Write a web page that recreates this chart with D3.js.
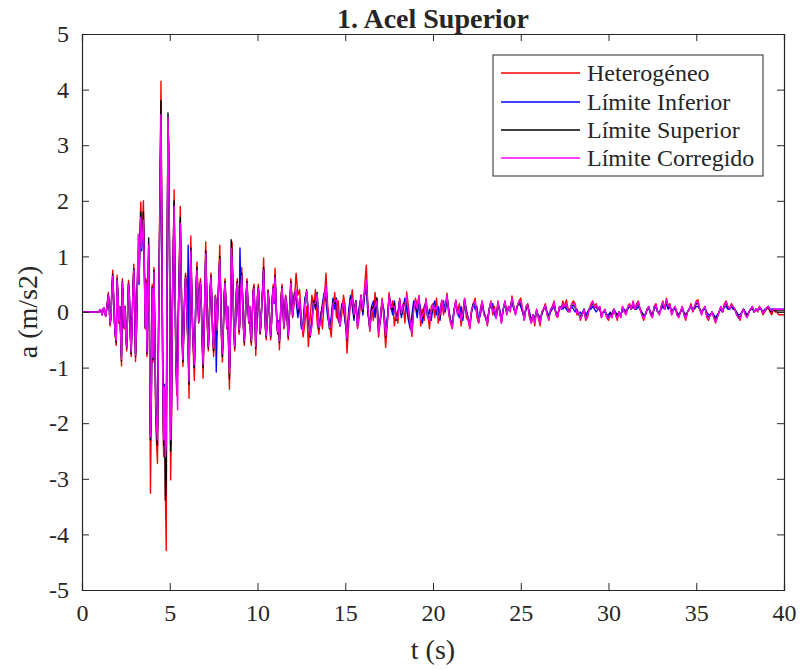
<!DOCTYPE html>
<html>
<head>
<meta charset="utf-8">
<script src="https://cdn.jsdelivr.net/npm/d3@7"></script>
<style>
body{margin:0;background:#fff;}
svg{display:block;}
text{font-family:"Liberation Serif","Times New Roman",serif;fill:#262626;}
</style>
</head>
<body>
<svg id="chart" width="802" height="670"></svg>
<script>
// ---- data ----
const seriesNames = ["Heterogéneo","Límite Inferior","Límite Superior","Límite Corregido"];
const seriesColors = ["#ff0000","#0000ff","#000000","#ff00ff"];
const xTicks = [0,5,10,15,20,25,30,35,40];
const yTicks = [-5,-4,-3,-2,-1,0,1,2,3,4,5];
const earlySpan = [0,12];   // seconds, samples evenly spread
const lateSpan = [12,40];

// Heterogéneo
const redEarly = [0,0,0,0,0,0,0,0,0,0,0,0,0,0,0,0,0,0,0,0,
0.02,0.04,0.0,-0.05,0.05,0.08,-0.02,-0.08,0.05,0.2,
0.35,0.1,-0.25,-0.1,0.4,0.75,0.3,-0.2,-0.45,-0.6,
0.66,0.3,-0.2,0.1,-0.4,-0.97,0.6,0.2,-0.3,0.1,
-0.5,-0.7,0.0,0.57,0.3,-0.4,-0.8,-0.3,0.4,0.86,
0.3,-0.89,-0.4,0.5,1.1,0.6,1.45,1.98,1.3,1.6,
2.0,1.0,-0.3,0.6,-0.8,0.3,1.2,-0.6,-3.26,-1.8,
0.5,-0.9,0.8,-0.4,-1.9,-2.4,-2.72,-0.8,1.0,2.5,
4.15,1.5,-1.2,-2.6,-1.5,-3.2,-4.29,1.0,3.3,3.0,
0.5,-3.02,-2.0,0.2,1.2,2.2,0.6,-1.0,-1.5,-1.0,
0.2,1.0,1.9,0.8,-0.5,-0.98,-0.4,0.3,0.7,0.4,
-0.3,-0.8,-1.55,0.2,1.37,0.5,-0.3,-0.8,-1.23,-0.4,
0.5,0.9,0.4,-0.2,0.3,0.6,0.1,-0.6,-1.19,-0.5,
0.4,1.26,0.5,-0.3,-0.7,-0.2,0.4,0.7,0.2,-0.5,
-0.8,-0.3,0.3,0.1,-0.4,0.2,0.7,1.2,0.4,-0.5,
-0.9,-0.4,0.3,0.6,0.2,-0.3,0.1,-0.6,-1.39,-0.6,
0.4,1.26,0.5,-0.3,-0.7,-0.2,0.4,0.6,0.1,-0.4,
-0.2,0.5,0.8,0.3,-0.3,-0.6,-0.2,0.3,0.6,0.2,
-0.2,0.1,-0.4,-0.6,-0.1,0.4,0.5,0.0,-0.78,-0.3,
0.3,0.5,0.1,-0.4,-0.2,0.2,0.5,0.97,0.3,-0.3,
-0.5,-0.1,0.4,0.2,-0.2,-0.5,-0.2,0.3,0.5,0.2,
0.79,0.3,-0.2,-0.4,-0.2,-0.68,-0.2,0.3,0.5,0.1,
-0.3,-0.1,0.3,0.2,-0.2,-0.5,-0.2,0.2,0.6,0.3,
-0.1];
const redLate = [0.2,0.7,0.3,0.4,-0.1,-0.45,-0.2,0.1,-0.62,-0.1,
0.3,0.1,0.4,-0.2,-0.4,0.0,-0.3,0.2,0.70,0.1,
-0.2,-0.45,0.05,0.35,-0.1,0.2,-0.25,-0.05,0.3,0.1,
-0.74,-0.2,0.15,0.4,0.0,0.2,-0.3,-0.1,0.3,-0.05,
0.45,0.84,0.0,-0.35,0.1,-0.15,0.35,0.05,-0.45,-0.1,
0.25,-0.1,-0.64,-0.2,0.35,0.05,0.2,-0.25,0.0,-0.2,
0.25,-0.05,0.15,-0.2,0.36,0.1,-0.2,-0.44,0.05,0.25,
0.1,0.3,-0.25,0.05,-0.15,0.25,-0.05,-0.3,0.1,0.15,
-0.1,0.25,-0.2,0.05,0.2,-0.05,0.1,0.34,-0.05,-0.2,
-0.3,0.05,0.2,-0.05,0.15,-0.25,0.0,0.25,-0.1,-0.15,
-0.3,0.05,0.15,0.25,-0.1,-0.2,0.05,0.2,-0.05,-0.1,
-0.25,0.05,0.2,-0.05,0.1,-0.1,0.2,0.0,-0.2,0.05,
0.2,-0.05,0.1,0.0,0.29,0.1,-0.05,0.1,0.2,0.25,
0.05,-0.15,0.1,0.15,-0.1,-0.2,-0.05,-0.25,0.05,-0.1,
-0.25,0.0,0.05,0.15,-0.05,-0.15,0.05,0.1,0.2,-0.05,
-0.1,0.1,0.05,0.2,0.1,0.22,0.05,0.0,0.15,0.2,
0.15,-0.05,0.0,-0.15,-0.05,0.05,-0.15,-0.1,0.05,0.15,
0.2,0.1,0.15,0.05,0.1,-0.1,0.0,0.05,-0.1,-0.15,
-0.05,-0.1,0.05,-0.05,-0.15,0.0,-0.1,0.1,0.0,-0.05,
0.1,0.15,0.05,0.2,0.05,0.15,0.2,0.05,-0.05,-0.15,
-0.05,0.05,0.1,-0.05,-0.1,0.1,0.15,0.0,-0.05,0.1,
0.2,0.05,0.25,0.1,0.15,-0.05,0.05,0.1,-0.05,-0.1,
0.0,0.1,-0.05,-0.15,0.0,0.05,0.15,0.0,0.1,0.2,
0.22,0.05,-0.05,0.05,0.1,-0.1,-0.15,-0.05,0.0,-0.1,
-0.2,-0.1,0.0,0.1,0.0,0.15,0.2,0.1,0.05,0.15,
0.1,0.05,-0.05,-0.1,-0.15,0.0,0.05,-0.05,-0.1,0.0,
0.05,0.1,0.0,0.05,0.0,0.1,0.05,-0.05,0.0,0.05,
0.1,0.0,-0.05,0.05,0.0,0.0,-0.05,-0.05,-0.05,-0.05];

// Límite Inferior
const blueEarly = [0,0,0,0,0,0,0,0,0,0,0,0,0,0,0,0,0,0,0,0,
0.02,0.03,0.0,-0.04,0.04,0.06,-0.02,-0.06,0.04,0.15,
0.3,0.08,-0.2,-0.08,0.35,0.6,0.25,-0.15,-0.4,-0.5,
0.55,0.25,-0.15,0.1,-0.35,-0.8,0.5,0.15,-0.25,0.1,
-0.4,-0.6,0.0,0.5,0.25,-0.35,-0.7,-0.25,0.35,0.7,
0.25,-0.75,-0.35,0.4,0.9,0.5,1.2,1.6,1.1,1.3,
1.6,0.8,-0.25,0.5,-0.7,0.25,1.0,-0.5,-2.2,-1.5,
0.4,-0.8,0.7,-0.35,-1.6,-2.0,-2.1,-0.7,0.8,2.0,
3.3,1.2,-1.0,-2.2,-1.3,-2.5,-2.2,0.8,3.2,2.5,
0.4,-2.36,-1.6,0.1,1.0,1.8,0.5,-0.8,-1.2,-0.8,
0.1,0.8,1.5,0.6,-0.4,-0.8,-0.3,0.25,0.6,0.3,
-0.2,1.2,-1.2,0.1,1.0,0.4,-0.25,-0.6,-0.9,-0.3,
0.4,0.7,0.3,-0.15,0.25,0.5,0.1,-0.5,-0.9,-0.4,
0.3,1.0,0.4,-0.25,-0.6,-0.15,0.35,0.6,0.15,-0.4,
-0.6,-0.3,0.25,-1.08,-0.3,0.15,0.6,0.9,0.3,-0.4,
-0.7,-0.3,0.25,0.5,0.15,-0.25,0.1,-0.5,-1.0,-0.5,
0.3,1.0,0.4,-0.25,-0.6,-0.15,0.35,0.5,0.1,-0.3,
1.15,0.4,0.6,0.25,-0.25,-0.5,-0.15,0.25,0.5,0.15,
-0.15,0.1,-0.35,-0.5,-0.1,0.35,0.4,0.0,-0.6,-0.25,
0.25,0.4,0.1,-0.35,-0.15,0.15,0.4,0.75,0.25,-0.25,
-0.4,-0.1,0.35,0.15,-0.15,-0.4,-0.15,0.25,0.4,0.15,
0.6,0.25,-0.15,-0.35,-0.15,-0.5,-0.15,0.25,0.4,0.1,
-0.25,-0.1,0.25,0.15,-0.15,-0.4,-0.15,0.15,0.5,0.25,
-0.05];
const blueLate = [0.35,0.2,-0.1,0.15,-0.3,-0.2,0.25,0.35,-0.1,-0.4,
-0.15,0.2,0.05,0.3,-0.25,-0.1,0.15,0.35,0.2,-0.1,
-0.25,-0.1,0.25,0.05,0.2,-0.15,-0.2,0.15,0.05,-0.2,
-0.4,0.05,0.3,0.1,-0.15,0.2,-0.2,0.1,0.25,-0.05,
0.3,0.4,-0.05,-0.25,0.1,0.2,-0.1,0.25,-0.3,-0.15,
0.15,0.05,-0.35,-0.1,0.25,0.1,-0.05,0.2,-0.15,0.0,
0.2,-0.1,0.1,0.25,0.05,-0.15,-0.3,-0.05,0.2,0.1,
-0.1,0.2,0.05,-0.2,0.1,0.15,-0.1,0.05,-0.15,0.1,
0.2,-0.05,0.1,-0.15,0.15,0.2,0.0,0.25,0.05,-0.15,
-0.2,0.05,0.15,0.0,-0.1,0.1,-0.15,0.2,0.05,-0.1,
-0.2,0.0,0.15,0.05,0.1,-0.15,-0.05,0.15,0.0,-0.1,
-0.15,0.05,0.1,0.15,-0.05,-0.1,0.1,0.05,-0.15,0.05,
0.15,0.0,0.05,0.1,0.2,0.05,0.0,0.1,0.15,0.1,
0.0,-0.1,0.05,0.1,0.0,-0.15,-0.05,-0.1,0.0,-0.05,
-0.1,-0.05,0.05,0.1,0.0,-0.05,0.0,0.05,0.1,0.0,
-0.05,0.05,0.1,0.05,0.1,0.05,0.0,0.05,0.1,0.05,
0.0,0.05,-0.05,0.0,-0.05,0.05,-0.05,0.0,0.05,0.05,
0.1,0.05,0.0,0.05,0.05,-0.05,0.0,0.0,-0.05,-0.05,
0.0,-0.05,0.05,0.0,-0.05,0.0,-0.05,0.05,0.05,0.0,
0.05,0.1,0.05,0.1,0.05,0.05,0.1,0.05,0.0,-0.05,
-0.05,0.05,0.05,0.0,-0.05,0.05,0.1,0.0,0.0,0.05,
0.1,0.05,0.15,0.05,0.1,0.0,0.05,0.05,0.0,-0.05,
0.0,0.05,0.0,-0.05,0.0,0.05,0.1,0.05,0.05,0.1,
0.1,0.05,0.0,0.05,0.05,0.0,-0.05,-0.05,0.0,-0.05,
-0.1,-0.05,0.0,0.05,0.0,0.1,0.1,0.05,0.05,0.1,
0.05,0.05,0.0,-0.05,-0.05,0.0,0.05,0.0,-0.05,0.0,
0.05,0.05,0.0,0.05,0.05,0.05,0.05,0.0,0.05,0.05,
0.1,0.05,0.05,0.05,0.05,0.05,0.05,0.05,0.05,0.05];

// Límite Superior
const blackEarly = [0,0,0,0,0,0,0,0,0,0,0,0,0,0,0,0,0,0,0,0,
0.02,0.04,0.0,-0.05,0.05,0.07,-0.02,-0.07,0.05,0.18,
0.32,0.1,-0.22,-0.1,0.38,0.68,0.28,-0.18,-0.42,-0.55,
0.6,0.28,-0.18,0.1,-0.38,-0.88,0.55,0.18,-0.28,0.1,
-0.45,-0.65,0.0,0.52,0.28,-0.38,-0.75,-0.28,0.38,0.78,
0.28,-0.8,-0.38,0.45,1.0,0.55,1.3,1.8,1.2,1.45,
1.8,0.9,-0.28,0.55,-0.75,0.28,1.33,-0.55,-2.3,-1.6,
0.45,-0.85,0.75,-0.38,-1.7,-2.2,-2.4,-0.75,0.9,2.3,
3.8,1.35,-1.1,-2.4,-1.4,-3.38,-3.0,0.9,3.58,2.7,
0.45,-2.5,-1.8,0.15,1.1,2.0,0.55,-0.9,-1.35,-0.9,
0.15,0.9,1.7,0.7,-0.45,-0.9,-0.35,0.28,0.65,0.35,
-0.25,-0.7,-1.3,0.15,1.15,0.45,-0.28,-0.7,-1.0,-0.35,
0.45,0.8,0.35,-0.18,0.28,0.55,0.1,-0.55,-1.0,-0.45,
0.35,1.1,0.45,-0.28,-0.65,-0.18,0.38,0.65,0.18,-0.45,
-0.7,-0.28,0.28,0.1,-0.35,0.18,0.65,1.0,0.35,-0.45,
-0.8,-0.35,0.28,0.55,0.18,-0.28,0.1,-0.55,-1.2,-0.55,
1.3,1.0,0.45,-0.28,-0.65,-0.18,0.38,0.55,0.1,-0.35,
-0.18,0.45,0.7,0.28,-0.28,-0.55,-0.18,0.28,0.55,0.18,
-0.18,0.1,-0.38,-0.55,-0.1,0.38,0.45,0.0,-0.65,-0.28,
0.28,0.45,0.1,-0.38,-0.18,0.18,0.45,0.8,0.28,-0.28,
-0.45,-0.1,0.38,0.18,-0.18,-0.45,-0.18,0.28,0.45,0.18,
0.65,0.28,-0.18,-0.38,-0.18,-0.55,-0.18,0.28,0.45,0.1,
-0.28,-0.1,0.28,0.18,-0.18,-0.45,-0.18,0.18,0.55,0.28,
-0.08];
const blackLate = [0.3,0.35,0.0,0.2,-0.25,-0.3,0.2,0.4,-0.05,-0.45,
-0.2,0.2,0.1,0.35,-0.3,-0.15,0.1,0.3,0.45,0.0,
-0.3,-0.2,0.2,0.15,0.25,-0.1,-0.25,0.1,0.15,-0.15,
-0.5,-0.05,0.25,0.2,-0.1,0.2,-0.25,0.05,0.3,0.0,
0.35,0.55,0.0,-0.3,0.05,0.1,0.05,0.25,-0.35,-0.15,
0.2,0.0,-0.45,-0.15,0.3,0.1,0.05,0.15,-0.15,-0.05,
0.2,-0.05,0.1,0.15,0.25,-0.05,-0.25,-0.35,0.1,0.15,
0.0,0.25,-0.1,-0.1,0.05,0.2,-0.1,-0.1,-0.05,0.1,
0.1,0.05,-0.05,-0.1,0.2,0.1,0.05,0.28,0.0,-0.15,
-0.25,0.0,0.2,-0.02,0.0,-0.1,-0.1,0.22,0.0,-0.12,
-0.25,0.02,0.15,0.15,0.0,-0.18,0.0,0.18,-0.02,-0.1,
-0.2,0.05,0.15,0.05,0.02,-0.1,0.15,0.02,-0.18,0.05,
0.18,-0.02,0.08,0.05,0.22,0.08,-0.02,0.1,0.18,0.15,
0.02,-0.12,0.08,0.12,-0.05,-0.18,-0.05,-0.15,0.02,-0.08,
-0.18,-0.02,0.05,0.12,-0.02,-0.1,0.02,0.08,0.15,0.0,
-0.08,0.08,0.08,0.12,0.1,0.12,0.02,0.02,0.12,0.12,
0.08,0.0,-0.02,-0.08,-0.05,0.05,-0.1,-0.05,0.05,0.1,
0.15,0.08,0.08,0.05,0.08,-0.08,0.0,0.02,-0.08,-0.1,
-0.02,-0.08,0.05,-0.02,-0.1,0.0,-0.08,0.08,0.02,-0.02,
0.08,0.12,0.05,0.15,0.05,0.1,0.15,0.05,-0.02,-0.1,
-0.05,0.05,0.08,-0.02,-0.08,0.08,0.12,0.0,-0.02,0.08,
0.15,0.05,0.2,0.08,0.12,-0.02,0.05,0.08,-0.02,-0.08,
0.0,0.08,-0.02,-0.1,0.0,0.05,0.12,0.02,0.08,0.15,
0.15,0.05,-0.02,0.05,0.08,-0.05,-0.1,-0.05,0.0,-0.08,
-0.15,-0.08,0.0,0.08,0.0,0.12,0.15,0.08,0.05,0.12,
0.08,0.05,-0.02,-0.08,-0.1,0.0,0.05,-0.02,-0.08,0.0,
0.05,0.08,0.0,0.05,0.02,0.08,0.05,-0.02,0.02,0.05,
0.1,0.02,0.0,0.05,0.02,0.02,0.02,0.02,0.02,0.02];

// Límite Corregido
const magentaEarly = [0,0,0,0,0,0,0,0,0,0,0,0,0,0,0,0,0,0,0,0,
0.03,0.05,0.0,-0.05,0.06,0.08,-0.02,-0.08,0.05,0.17,
0.31,0.1,-0.21,-0.1,0.36,0.65,0.27,-0.17,-0.41,-0.52,
0.58,0.27,-0.17,0.1,-0.37,-0.85,0.53,0.17,-0.27,0.1,
-0.43,-0.63,0.0,0.5,0.27,-0.37,-0.72,-0.27,0.37,0.75,
0.27,-0.78,-0.37,0.43,1.4,0.53,1.25,1.7,1.15,1.4,
1.65,0.85,-0.27,0.53,-0.72,0.27,1.2,-0.53,-2.25,-1.55,
0.43,-0.82,0.72,-0.37,-1.65,-2.1,-2.3,-0.72,0.85,2.2,
3.55,1.3,-1.05,-2.3,-1.35,-2.6,-2.4,0.85,3.5,2.6,
0.43,-2.3,-1.7,0.12,1.05,1.9,0.53,-0.85,-1.3,-1.76,
0.12,0.85,1.6,0.65,-0.43,-0.85,-0.33,0.27,0.62,0.33,
-0.22,-0.65,-1.25,0.12,1.1,0.43,-0.27,-0.65,-0.95,-0.33,
0.43,0.75,0.33,-0.17,0.27,0.53,0.1,-0.52,-0.95,-0.43,
0.33,1.05,0.43,-0.27,-0.62,-0.17,0.36,0.62,0.17,-0.43,
-0.65,-0.27,0.27,0.1,-0.33,0.17,0.62,0.95,0.33,-0.43,
-0.75,-0.33,0.27,0.52,0.17,-0.27,0.1,-0.52,-1.1,-0.52,
1.15,0.95,0.43,-0.27,-0.62,-0.17,0.36,0.52,0.1,-0.33,
-0.17,0.43,0.65,0.27,-0.27,-0.52,-0.17,0.27,0.52,0.17,
-0.17,0.1,-0.36,-0.52,-0.1,0.36,0.43,0.0,-0.62,-0.27,
0.27,0.43,0.1,-0.36,-0.17,0.17,0.43,0.75,0.27,-0.27,
-0.43,-0.1,0.36,0.17,-0.17,-0.43,-0.17,0.27,0.43,0.17,
0.62,0.27,-0.17,-0.36,-0.17,-0.52,-0.17,0.27,0.43,0.1,
-0.27,-0.1,0.27,0.17,-0.17,-0.43,-0.17,0.17,0.52,0.27,
-0.07];
const magentaLate = [0.25,0.4,0.05,0.25,-0.2,-0.35,0.15,0.38,0.0,-0.42,
-0.25,0.15,0.15,0.32,-0.28,-0.2,0.05,0.28,0.48,0.05,
-0.28,-0.25,0.15,0.2,0.22,-0.05,-0.25,0.05,0.2,-0.1,
-0.48,-0.1,0.2,0.25,-0.05,0.18,-0.28,0.0,0.3,0.05,
0.38,0.58,0.05,-0.32,0.0,0.05,0.1,0.2,-0.38,-0.12,
0.22,-0.05,-0.42,-0.18,0.3,0.08,0.1,0.1,-0.12,-0.1,
0.22,-0.02,0.12,0.1,0.3,0.0,-0.22,-0.38,0.05,0.2,
0.05,0.28,-0.15,-0.05,0.0,0.22,-0.08,-0.15,0.0,0.12,
0.05,0.1,-0.1,-0.05,0.22,0.05,0.08,0.3,-0.02,-0.18,
-0.28,0.02,0.22,-0.05,0.05,-0.15,-0.05,0.24,-0.02,-0.12,
-0.28,0.05,0.12,0.2,-0.02,-0.2,0.02,0.2,-0.05,-0.08,
-0.22,0.05,0.18,0.0,0.05,-0.12,0.18,0.0,-0.2,0.05,
0.2,-0.05,0.1,0.02,0.25,0.1,-0.05,0.1,0.2,0.2,
0.05,-0.15,0.1,0.12,-0.08,-0.2,-0.05,-0.2,0.05,-0.1,
-0.2,0.0,0.05,0.12,-0.05,-0.12,0.05,0.08,0.18,-0.02,
-0.1,0.1,0.05,0.15,0.1,0.15,0.02,0.0,0.15,0.15,
0.1,-0.02,0.0,-0.12,-0.05,0.05,-0.12,-0.08,0.05,0.12,
0.18,0.08,0.12,0.05,0.1,-0.1,0.0,0.05,-0.1,-0.12,
-0.05,-0.1,0.05,-0.05,-0.12,0.0,-0.1,0.1,0.0,-0.05,
0.1,0.12,0.05,0.18,0.05,0.12,0.18,0.05,-0.05,-0.12,
-0.05,0.05,0.1,-0.05,-0.1,0.1,0.12,0.0,-0.05,0.1,
0.18,0.05,0.22,0.1,0.12,-0.05,0.05,0.1,-0.05,-0.1,
0.0,0.1,-0.05,-0.12,0.0,0.05,0.12,0.02,0.1,0.18,
0.18,0.05,-0.05,0.05,0.1,-0.08,-0.12,-0.05,0.0,-0.1,
-0.18,-0.1,0.0,0.1,0.0,0.12,0.18,0.1,0.05,0.12,
0.1,0.05,-0.05,-0.1,-0.12,0.0,0.05,-0.05,-0.1,0.0,
0.05,0.1,0.0,0.05,0.02,0.1,0.05,-0.02,0.02,0.08,
0.1,0.05,0.02,0.05,0.05,0.05,0.05,0.05,0.05,0.05];

const seriesEarly = [redEarly, blueEarly, blackEarly, magentaEarly];
const seriesLate = [redLate, blueLate, blackLate, magentaLate];

// ---- build point lists (sample times spread evenly over each span) ----
function toPoints(early, late){
  const pts = [];
  const nE = early.length, nL = late.length;
  early.forEach((v,i)=>pts.push([earlySpan[0] + i*(earlySpan[1]-earlySpan[0])/(nE-1), v]));
  late.forEach((v,i)=>pts.push([lateSpan[0] + (i+1)*(lateSpan[1]-lateSpan[0])/nL, v]));
  return pts;
}

// ---- layout ----
const svg = d3.select("#chart");
const L = 82, R = 784, T = 34, B = 590;
const x = d3.scaleLinear().domain([0,40]).range([L,R]);
const y = d3.scaleLinear().domain([-5,5]).range([B,T]);
const axisColor = "#262626";
const tickLen = 7;

svg.append("defs").append("clipPath").attr("id","clip")
  .append("rect").attr("x",L).attr("y",T).attr("width",R-L).attr("height",B-T);

const plot = svg.append("g").attr("clip-path","url(#clip)");
const line = d3.line().x(d=>x(d[0])).y(d=>y(d[1]));
seriesNames.forEach((name,k)=>{
  plot.append("path")
    .datum(toPoints(seriesEarly[k], seriesLate[k]))
    .attr("d", line)
    .attr("fill","none")
    .attr("stroke", seriesColors[k])
    .attr("stroke-width", 1.4)
    .attr("stroke-linejoin","round");
});

// axes (MATLAB box style, inward ticks on all four sides)
const fontTick = 24;
const fmt = d => String(d);
const gx = svg.append("g").attr("transform",`translate(0,${B})`)
  .call(d3.axisBottom(x).tickValues(xTicks).tickSize(-tickLen).tickPadding(tickLen+7).tickFormat(fmt));
const gxTop = svg.append("g").attr("transform",`translate(0,${T})`)
  .call(d3.axisTop(x).tickValues(xTicks).tickSize(-tickLen).tickFormat(""));
const gy = svg.append("g").attr("transform",`translate(${L},0)`)
  .call(d3.axisLeft(y).tickValues(yTicks).tickSize(-tickLen).tickPadding(tickLen+6).tickFormat(fmt));
const gyRight = svg.append("g").attr("transform",`translate(${R},0)`)
  .call(d3.axisRight(y).tickValues(yTicks).tickSize(-tickLen).tickFormat(""));
[gx,gxTop,gy,gyRight].forEach(g=>{
  g.select(".domain").attr("stroke",axisColor).attr("stroke-width",1.2);
  g.selectAll(".tick line").attr("stroke",axisColor).attr("stroke-width",1);
  g.selectAll(".tick text").attr("fill",axisColor)
    .style("font-family",'"Liberation Serif", serif').style("font-size",fontTick+"px");
});
gx.selectAll(".tick text").attr("dy","0.71em");

// title and axis labels
svg.append("text").attr("x",(L+R)/2).attr("y",28).attr("text-anchor","middle")
  .style("font-size","28px").style("font-weight","bold").attr("fill","#000").text("1. Acel Superior");
svg.append("text").attr("x",(L+R)/2).attr("y",659).attr("text-anchor","middle")
  .style("font-size","28px").text("t (s)");
svg.append("text").attr("transform",`translate(37,${(T+B)/2}) rotate(-90)`).attr("text-anchor","middle")
  .style("font-size","28px").text("a (m/s2)");

// legend
const lg = svg.append("g");
lg.append("rect").attr("x",493).attr("y",55).attr("width",270).attr("height",121)
  .attr("fill","#fff").attr("stroke",axisColor).attr("stroke-width",1);
const rowY = [73,102,130,158];
seriesNames.forEach((name,k)=>{
  lg.append("line").attr("x1",501).attr("x2",580).attr("y1",rowY[k]).attr("y2",rowY[k])
    .attr("stroke",seriesColors[k]).attr("stroke-width",1.4);
  lg.append("text").attr("x",587).attr("y",rowY[k]).attr("dy","0.35em")
    .style("font-size","24px").attr("fill","#000").text(name);
});
</script>
</body>
</html>
